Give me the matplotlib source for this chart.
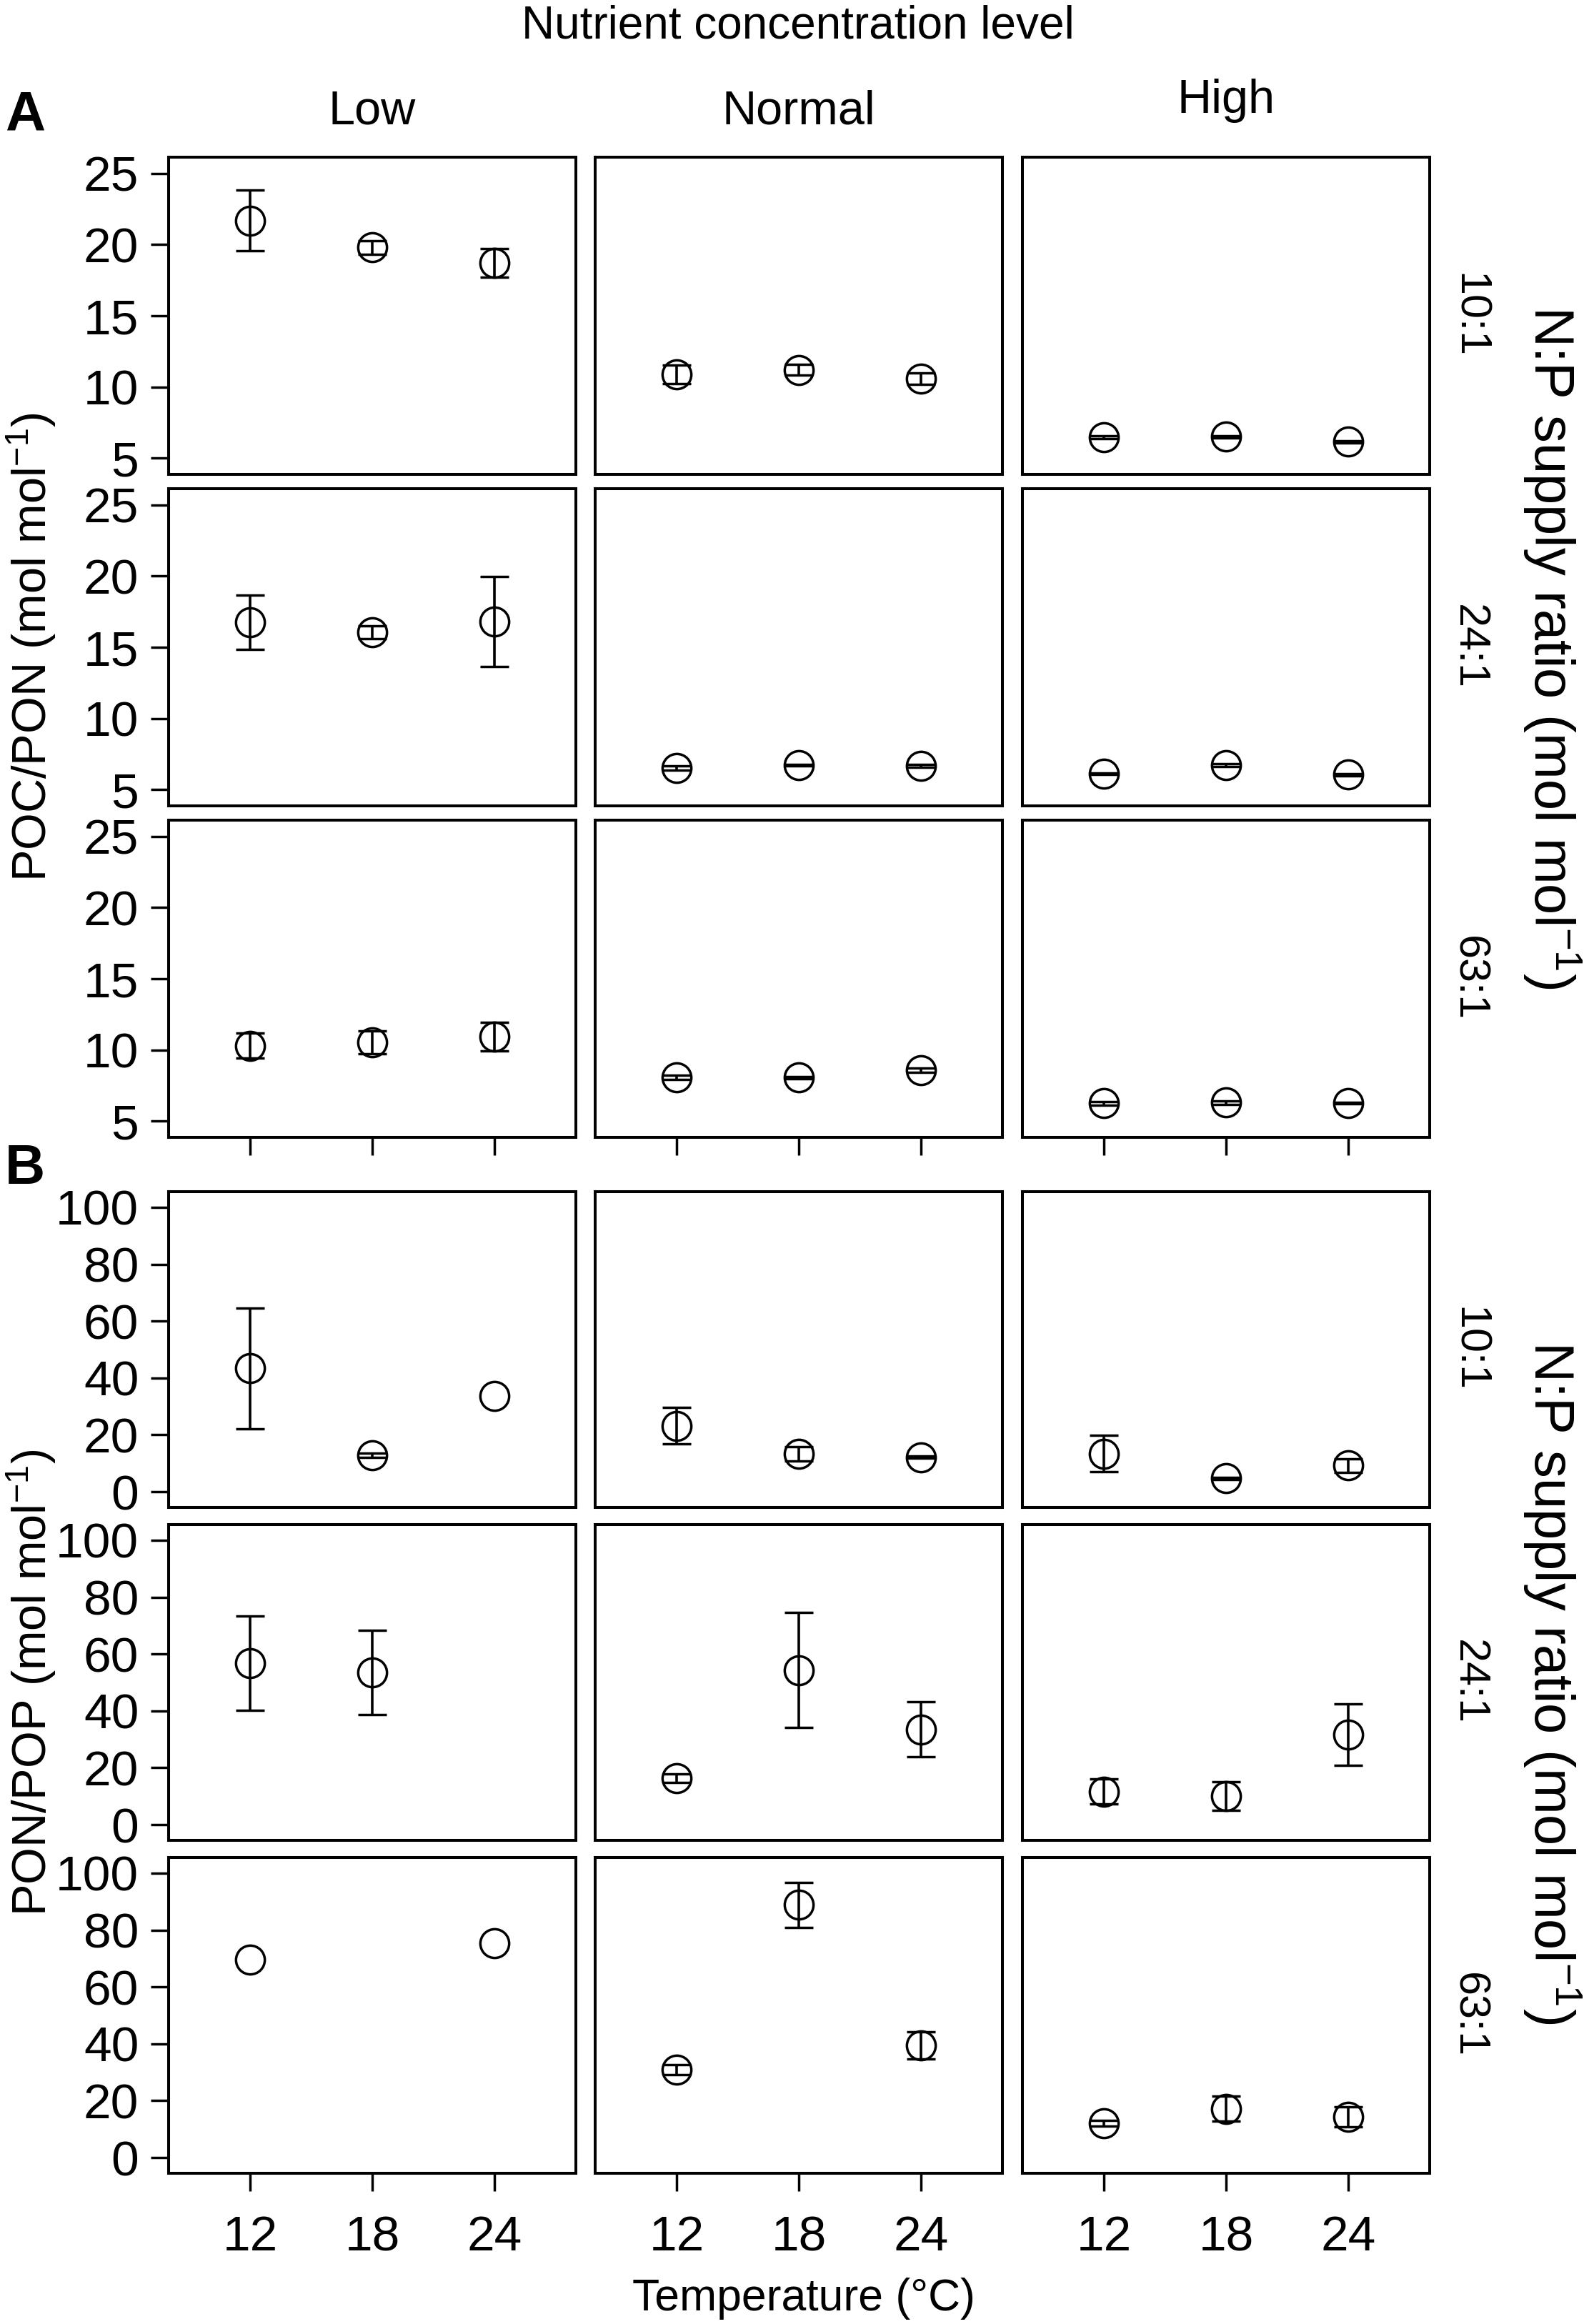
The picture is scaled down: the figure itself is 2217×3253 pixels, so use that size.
import numpy as np
import matplotlib.pyplot as plt

plt.rcParams['font.family'] = 'Liberation Sans'
plt.rcParams['mathtext.fontset'] = 'custom'
plt.rcParams['mathtext.rm'] = 'Liberation Sans'
plt.rcParams['mathtext.default'] = 'regular'

nan = np.nan

temps = [12, 18, 24]
levels = ['Low', 'Normal', 'High']
ratios = ['10:1', '24:1', '63:1']

# A: POC/PON, one row per nutrient level (Low, Normal, High)
cn_10 = [[21.7, 19.8, 18.7], [10.9, 11.2, 10.6], [6.45, 6.5, 6.15]]
cn_10_sd = [[2.15, 0.48, 1.0], [0.65, 0.37, 0.4], [0.1, 0.08, 0.08]]
cn_24 = [[16.75, 16.05, 16.8], [6.5, 6.7, 6.65], [6.1, 6.7, 6.05]]
cn_24_sd = [[1.9, 0.47, 3.15], [0.15, 0.06, 0.1], [0.06, 0.1, 0.08]]
cn_63 = [[10.3, 10.55, 10.95], [8.05, 8.05, 8.55], [6.25, 6.3, 6.25]]
cn_63_sd = [[0.88, 0.8, 1.0], [0.15, 0.06, 0.15], [0.12, 0.12, 0.06]]

# B: PON/POP
np_10 = [[43.4, 12.8, 33.8], [23.2, 13.4, 12.2], [13.4, 4.7, 9.2]]
np_10_sd = [[21.2, 0.8, nan], [6.4, 2.5, 0.3], [6.4, 0.3, 2.4]]
np_24 = [[56.7, 53.5, nan], [16.4, 54.3, 33.5], [11.6, 10.0, 31.6]]
np_24_sd = [[16.6, 14.9, nan], [1.5, 20.2, 9.6], [4.4, 5.0, 10.8]]
np_63 = [[69.5, nan, 75.3], [30.9, 88.9, 39.4], [12.2, 17.2, 14.3]]
np_63_sd = [[nan, nan, nan], [1.8, 7.9, 4.7], [1.0, 4.3, 3.5]]

W, H = 2217, 3253
fig = plt.figure(figsize=(W / 100, H / 100), dpi=100)


def px_axes(x, y, w, h):
    return fig.add_axes([x / W, 1 - (y + h) / H, w / W, h / H])


def ftext(x, y, s, **kw):
    fig.text(x / W, 1 - y / H, s, **kw)


col_x = [236, 833, 1431]
pw = 570
rows_a = [220, 684, 1148]
rows_b = [1668, 2134, 2600]
ph_a, ph_b = 444, 442


def panel(x, y, h, mean, sd, ylim, yticks, first_col, bottom, xlabels):
    ax = px_axes(x, y, pw, h)
    ax.errorbar(temps, mean, yerr=sd, fmt='o', mfc='none', mec='black',
                ms=29, mew=2.5, ecolor='black', elinewidth=2.6,
                capsize=14.5, capthick=2.6)
    ax.set_xlim(8, 28)
    ax.set_ylim(*ylim)
    for s in ax.spines.values():
        s.set_linewidth(2.9)
    ax.tick_params(direction='out', length=18, width=2.5, labelsize=50,
                   pad=12)
    if first_col:
        ax.set_yticks(yticks)
    else:
        ax.set_yticks([])
    if bottom:
        ax.set_xticks(temps)
        if xlabels:
            ax.set_xticklabels([str(t) for t in temps])
            ax.tick_params(axis='x', pad=24)
        else:
            ax.set_xticklabels([])
    else:
        ax.set_xticks([])
    return ax


cn_all = [(cn_10, cn_10_sd), (cn_24, cn_24_sd), (cn_63, cn_63_sd)]
np_all = [(np_10, np_10_sd), (np_24, np_24_sd), (np_63, np_63_sd)]

for r in range(3):
    for c in range(3):
        m, s = cn_all[r]
        panel(col_x[c], rows_a[r], ph_a, m[c], s[c], (3.85, 26.15),
              [5, 10, 15, 20, 25], c == 0, r == 2, False)
        m, s = np_all[r]
        panel(col_x[c], rows_b[r], ph_b, m[c], s[c], (-5.5, 105.5),
              [0, 20, 40, 60, 80, 100], c == 0, r == 2, True)

# titles and strip labels
ftext(1117, 53, 'Nutrient concentration level', ha='center', va='baseline',
      fontsize=46)
for c, lev in enumerate(levels):
    base = 158 if lev == 'High' else 173
    ftext(col_x[c] + pw / 2, base, lev, ha='center', va='baseline', fontsize=48)

ftext(7, 183, 'A', ha='left', va='baseline', fontsize=56, fontweight='bold')
ftext(7, 1657, 'B', ha='left', va='baseline', fontsize=56, fontweight='bold')

for rows, ph in [(rows_a, ph_a), (rows_b, ph_b)]:
    for r, lab in enumerate(ratios):
        ftext(2055, rows[r] + ph / 2, lab, rotation=-90, ha='center',
              va='center', fontsize=44)
    mid = (rows[0] + rows[2] + ph) / 2
    ftext(2172, mid, 'N:P supply ratio (mol mol$^{-1}$)', rotation=-90,
          ha='center', va='center', fontsize=56)

ftext(44, (rows_a[0] + rows_a[2] + ph_a) / 2, 'POC/PON (mol mol$^{-1}$)',
      rotation=90, ha='center', va='center', fontsize=48)
ftext(44, (rows_b[0] + rows_b[2] + ph_b) / 2, 'PON/POP (mol mol$^{-1}$)',
      rotation=90, ha='center', va='center', fontsize=48)

ftext(1125, 3234, 'Temperature (°C)', ha='center', va='baseline', fontsize=45)

fig.savefig('out.png', dpi=100, facecolor='white')
